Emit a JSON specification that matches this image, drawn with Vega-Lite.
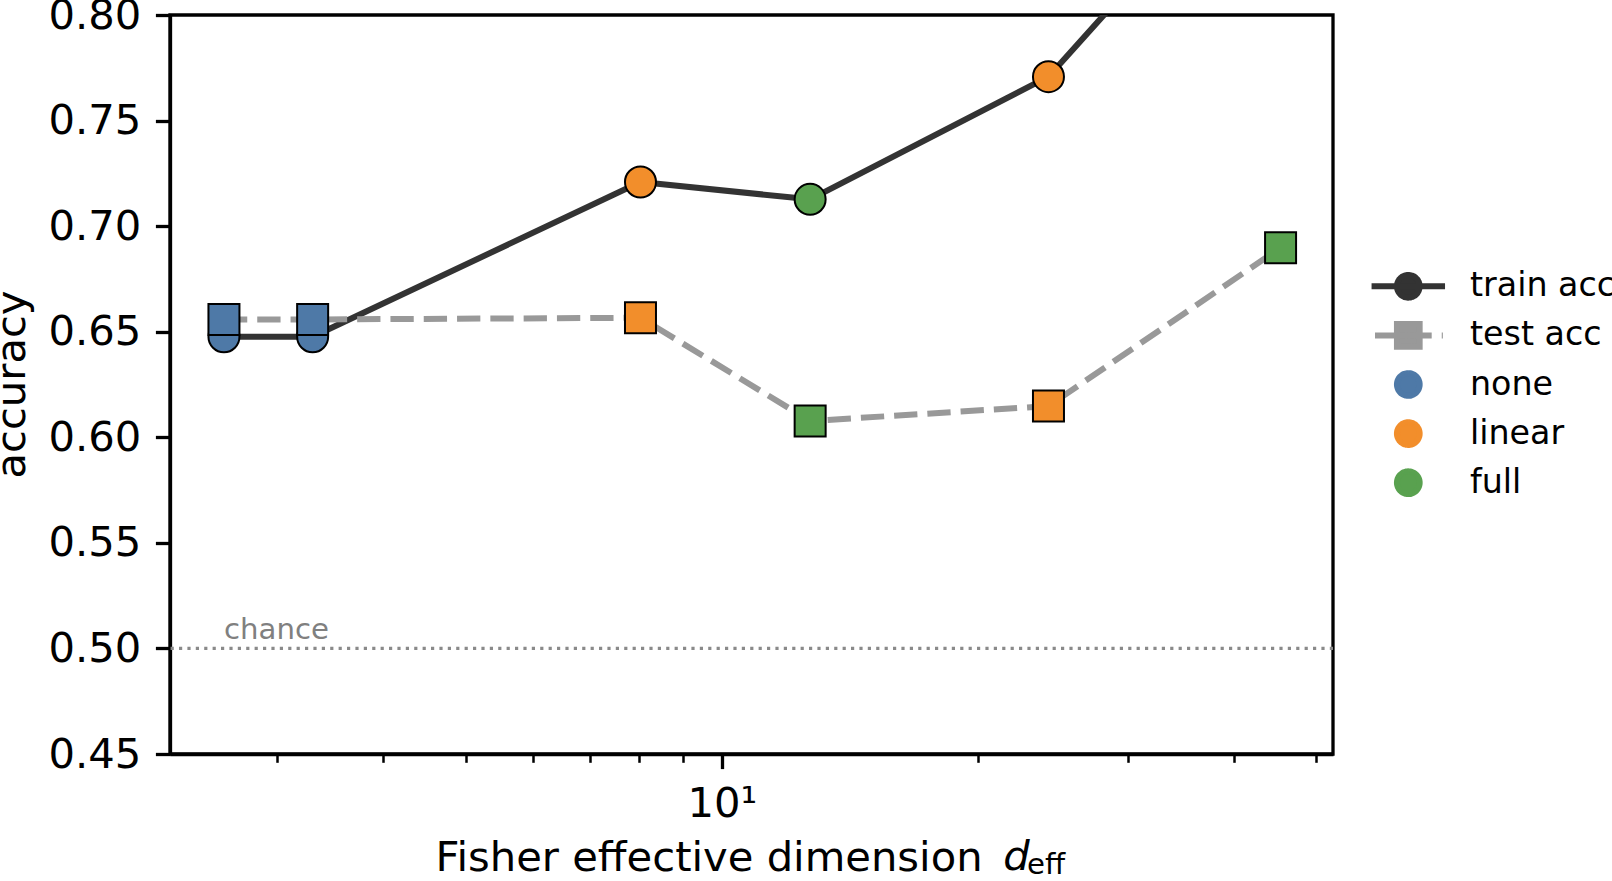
{
  "$schema": "https://vega.github.io/schema/vega-lite/v6.json",
  "width": 1163,
  "height": 739,
  "autosize": {"type": "none"},
  "padding": {"left": 170, "top": 15, "right": 279, "bottom": 127},
  "background": "white",
  "config": {
    "font": "DejaVu Sans",
    "view": {"stroke": "black", "strokeWidth": 3.3},
    "axis": {"grid": false, "domainColor": "black", "domainWidth": 3.3, "tickColor": "black", "labelColor": "black", "titleColor": "black", "labelFont": "DejaVu Sans", "titleFont": "DejaVu Sans", "titleFontWeight": "normal", "labelFlush": false, "labelOverlap": false}
  },
  "datasets": {
    "acc": [
      {"series": "train acc", "variant": "none", "deff": 2.598, "acc": 0.6476},
      {"series": "train acc", "variant": "none", "deff": 3.303, "acc": 0.6476},
      {"series": "train acc", "variant": "linear", "deff": 8.023, "acc": 0.7209},
      {"series": "train acc", "variant": "full", "deff": 12.70, "acc": 0.7127},
      {"series": "train acc", "variant": "linear", "deff": 24.21, "acc": 0.7708},
      {"series": "train acc", "variant": "full", "deff": 45.38, "acc": 0.893},
      {"series": "test acc", "variant": "none", "deff": 2.598, "acc": 0.6558},
      {"series": "test acc", "variant": "none", "deff": 3.303, "acc": 0.6558},
      {"series": "test acc", "variant": "linear", "deff": 8.023, "acc": 0.6566},
      {"series": "test acc", "variant": "full", "deff": 12.70, "acc": 0.6077},
      {"series": "test acc", "variant": "linear", "deff": 24.21, "acc": 0.6148},
      {"series": "test acc", "variant": "full", "deff": 45.38, "acc": 0.6898}
    ]
  },
  "data": {"name": "acc"},
  "resolve": {"axis": {"x": "independent"}},
  "layer": [
    {
      "data": {"values": [{"level": 0.5}]},
      "mark": {"type": "rule", "color": "#8a8a8a", "strokeWidth": 3.2, "strokeDash": [3.2, 5.2]},
      "encoding": {
        "y": {"datum": 0.5, "type": "quantitative", "scale": {"domain": [0.45, 0.8], "nice": false, "zero": false}}
      }
    },
    {
      "data": {"values": [{"label": "chance"}]},
      "mark": {"type": "text", "align": "left", "baseline": "alphabetic", "fontSize": 29.2, "color": "#808080"},
      "encoding": {
        "x": {"datum": 2.598, "type": "quantitative", "scale": {"type": "log", "domain": [2.245, 52.3], "nice": false},
          "axis": {"orient": "bottom", "values": [3, 4, 5, 6, 7, 8, 9, 20, 30, 40, 50], "labels": false, "tickSize": 8.3, "tickWidth": 2.5, "domain": false, "title": null}},
        "y": {"datum": 0.5045, "type": "quantitative"},
        "text": {"field": "label"}
      }
    },
    {
      "transform": [{"filter": "datum.series === 'train acc'"}],
      "mark": {"type": "line", "strokeWidth": 6, "clip": true, "strokeJoin": "round"},
      "encoding": {
        "x": {"field": "deff", "type": "quantitative", "scale": {"type": "log", "domain": [2.245, 52.3], "nice": false},
          "axis": {"orient": "bottom", "values": [10], "labelExpr": "'10¹'", "tickSize": 14.6, "tickWidth": 3.3, "labelFontSize": 41.7, "labelPadding": 14.6,
            "title": "Fisher effective dimension", "titleFontSize": 41.7, "titleX": 265, "titleY": 116, "titleAlign": "left", "titleBaseline": "alphabetic"}},
        "y": {"field": "acc", "type": "quantitative", "scale": {"domain": [0.45, 0.8], "nice": false, "zero": false},
          "axis": {"values": [0.45, 0.5, 0.55, 0.6, 0.65, 0.7, 0.75, 0.8], "format": ".2f", "tickSize": 14.6, "tickWidth": 3.3, "labelFontSize": 41.7, "labelPadding": 14.6,
            "title": "accuracy", "titleFontSize": 41.7, "titleX": -146, "titleY": 369, "titleAngle": 270, "titleBaseline": "alphabetic", "titleAlign": "center"}},
        "color": {"field": "series", "type": "nominal",
          "scale": {"domain": ["train acc", "test acc", "none", "linear", "full"], "range": ["#333333", "#999999", "#4e79a7", "#f28e2b", "#59a14f"]},
          "legend": {
            "orient": "none", "direction": "vertical", "legendX": 1220.8, "legendY": 253.8, "title": null, "padding": 0,
            "labelFontSize": 33.3, "labelFont": "DejaVu Sans", "labelColor": "black", "labelLimit": 0, "labelOffset": 44.2,
            "symbolSize": 823.7, "symbolStrokeWidth": 6, "rowPadding": 2.1,
            "encode": {"symbols": {"update": {
              "shape": {"signal": "datum.value === 'train acc' ? 'M-2.56,0L2.56,0M0.791,0A0.791,0.791,0,1,1,-0.791,0A0.791,0.791,0,1,1,0.791,0Z' : datum.value === 'test acc' ? 'M-2.32,0L1.63,0M2.33,0L2.41,0M-0.791,-0.791L0.791,-0.791L0.791,0.791L-0.791,0.791Z' : 'M0.791,0A0.791,0.791,0,1,1,-0.791,0A0.791,0.791,0,1,1,0.791,0Z'"},
              "fill": {"scale": "color", "field": "value"},
              "stroke": {"scale": "color", "field": "value"},
              "strokeWidth": {"value": 6},
              "size": {"value": 823.7},
              "strokeDash": {"value": [1, 0]},
              "opacity": {"value": 1},
              "fillOpacity": {"value": 1},
              "strokeOpacity": {"value": 1}
            }}}
          }
        }
      }
    },
    {
      "transform": [{"filter": "datum.series === 'test acc'"}],
      "mark": {"type": "line", "strokeWidth": 6, "clip": true, "strokeDash": [23.3, 10]},
      "encoding": {
        "x": {"field": "deff", "type": "quantitative", "scale": {"type": "log", "domain": [2.245, 52.3], "nice": false}, "axis": null},
        "y": {"field": "acc", "type": "quantitative"},
        "color": {"field": "series", "type": "nominal"}
      }
    },
    {
      "transform": [{"filter": "datum.series === 'train acc'"}],
      "mark": {"type": "point", "shape": "circle", "filled": true, "size": 961, "stroke": "black", "strokeWidth": 2, "opacity": 1, "clip": true},
      "encoding": {
        "x": {"field": "deff", "type": "quantitative", "scale": {"type": "log", "domain": [2.245, 52.3], "nice": false}, "axis": null},
        "y": {"field": "acc", "type": "quantitative"},
        "color": {"field": "variant", "type": "nominal"}
      }
    },
    {
      "transform": [{"filter": "datum.series === 'test acc'"}],
      "mark": {"type": "point", "shape": "square", "filled": true, "size": 961, "stroke": "black", "strokeWidth": 2, "opacity": 1, "clip": true},
      "encoding": {
        "x": {"field": "deff", "type": "quantitative", "scale": {"type": "log", "domain": [2.245, 52.3], "nice": false}, "axis": null},
        "y": {"field": "acc", "type": "quantitative"},
        "color": {"field": "variant", "type": "nominal"}
      }
    },
    {
      "data": {"values": [{"t": "d"}]},
      "mark": {"type": "text", "align": "left", "baseline": "alphabetic", "fontSize": 41.7, "fontStyle": "italic", "dy": 116, "color": "black"},
      "encoding": {
        "x": {"datum": 21.42, "type": "quantitative", "scale": {"type": "log", "domain": [2.245, 52.3], "nice": false}, "axis": null},
        "y": {"datum": 0.45, "type": "quantitative"},
        "text": {"field": "t"}
      }
    },
    {
      "data": {"values": [{"t": "eff"}]},
      "mark": {"type": "text", "align": "left", "baseline": "alphabetic", "fontSize": 29.2, "dy": 120, "color": "black"},
      "encoding": {
        "x": {"datum": 22.84, "type": "quantitative", "scale": {"type": "log", "domain": [2.245, 52.3], "nice": false}, "axis": null},
        "y": {"datum": 0.45, "type": "quantitative"},
        "text": {"field": "t"}
      }
    }
  ]
}
